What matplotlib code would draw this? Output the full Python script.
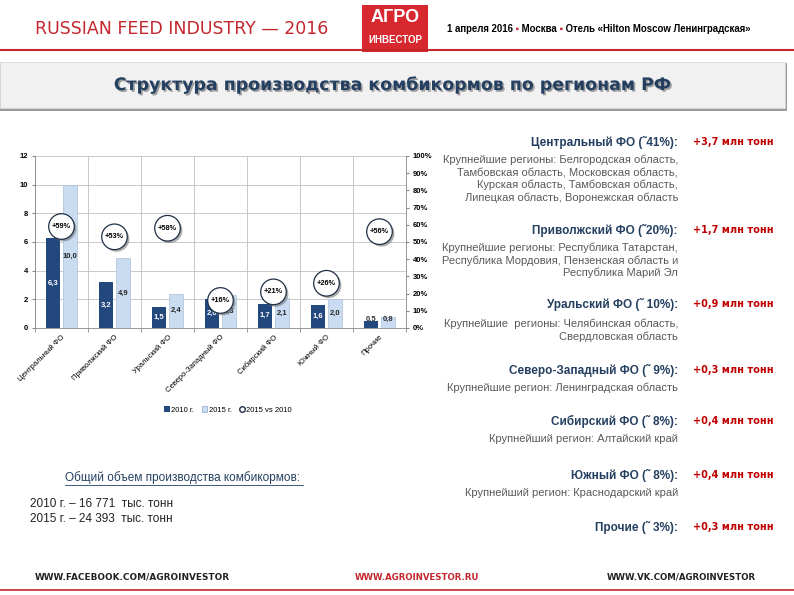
import matplotlib
matplotlib.use('Agg')
import matplotlib.pyplot as plt
import matplotlib.patheffects as pe
from matplotlib.patches import Rectangle, Patch
from matplotlib.lines import Line2D
import numpy as np

# data
categories = ['Центральный ФО', 'Приволжский ФО', 'Уральский ФО', 'Северо-Западный ФО',
              'Сибирский ФО', 'Южный ФО', 'Прочие']
v2010 = [6.3, 3.2, 1.5, 2.0, 1.7, 1.6, 0.5]
v2015 = [10.0, 4.9, 2.4, 2.3, 2.1, 2.0, 0.8]
growth = [59, 53, 58, 16, 21, 26, 56]

left_ticks = [0, 2, 4, 6, 8, 10, 12]
right_ticks = list(range(0, 101, 10))

headings = ['Центральный ФО (˜41%):', 'Приволжский ФО (˜20%):', 'Уральский ФО (˜ 10%):',
            'Северо-Западный ФО (˜ 9%):', 'Сибирский ФО (˜ 8%):', 'Южный ФО (˜ 8%):',
            'Прочие (˜ 3%):']
increments = ['+3,7 млн тонн', '+1,7 млн тонн', '+0,9 млн тонн', '+0,3 млн тонн',
              '+0,4 млн тонн', '+0,4 млн тонн', '+0,3 млн тонн']
details = [['Крупнейшие регионы: Белгородская область,', 'Тамбовская область, Московская область,',
            'Курская область, Тамбовская область,', 'Липецкая область, Воронежская область'],
           ['Крупнейшие регионы: Республика Татарстан,', 'Республика Мордовия, Пензенская область и',
            'Республика Марий Эл'],
           ['Крупнейшие  регионы: Челябинская область,', 'Свердловская область'],
           ['Крупнейшие регион: Ленинградская область'],
           ['Крупнейший регион: Алтайский край'],
           ['Крупнейший регион: Краснодарский край'],
           []]
heading_y = [142, 230, 304, 370, 421, 475, 527]

total_lines = ['2010 г. – 16 771  тыс. тонн', '2015 г. – 24 393  тыс. тонн']

DARK = '#23487e'
LIGHT = '#c9dcf2'
RED = '#c4262e'
NAVY = '#243f60'
GREY = '#595959'

W, H = 794, 595
def fx(x):
    return x / W
def fy(y):
    return 1 - y / H

plt.rcParams['font.family'] = ['Liberation Sans', 'DejaVu Sans']
fig = plt.figure(figsize=(7.94, 5.95), dpi=100)
fig.patch.set_facecolor('white')
# invisible full-figure axes for the slide decorations
bg = fig.add_axes([0, 0, 1, 1])
bg.axis('off')
bg.set_xlim(0, W)
bg.set_ylim(H, 0)

# header
bg.text(35, 29, 'RUSSIAN FEED INDUSTRY — 2016', color=RED, fontsize=12.5,
        family='DejaVu Sans', va='center', ha='left')
bg.add_patch(Rectangle((362, 5), 66, 47, facecolor='#d7282f', edgecolor='none'))
bg.text(395, 17, 'АГРО', color='white', fontsize=13, weight='bold', ha='center', va='center')
bg.text(395, 40, 'ИНВЕСТОР', color='white', fontsize=7, weight='bold', ha='center', va='center')
t1 = bg.text(447, 29, '1 апреля 2016', color='black', fontsize=6.9, weight='bold', va='center')
a1 = bg.annotate(' ▪', xy=(1, 0.5), xycoords=t1, color=RED, fontsize=6.9, weight='bold', va='center')
a2 = bg.annotate(' Москва', xy=(1, 0.5), xycoords=a1, color='black', fontsize=6.9, weight='bold', va='center')
a3 = bg.annotate(' ▪', xy=(1, 0.5), xycoords=a2, color=RED, fontsize=6.9, weight='bold', va='center')
a4 = bg.annotate(' Отель «Hilton Moscow Ленинградская»', xy=(1, 0.5), xycoords=a3, color='black',
                 fontsize=6.9, weight='bold', va='center')
bg.plot([0, W], [50, 50], color=RED, lw=1.5)

# title box
bg.add_patch(Rectangle((0, 63), 787, 48, facecolor='#9a9a9a', edgecolor='none'))
bg.add_patch(Rectangle((0, 62), 785, 46, facecolor='#f1f1f1', edgecolor='#d8d8d8', lw=0.6))
bg.text(393, 85, 'Структура производства комбикормов по регионам РФ', color=NAVY,
        fontsize=12.5, weight='bold', ha='center', va='center', family='DejaVu Sans',
        path_effects=[pe.withSimplePatchShadow(offset=(1.2, -1.2), shadow_rgbFace='#8a8a8a', alpha=0.8)])

# chart
ax = fig.add_axes([fx(35), fy(328), fx(406) - fx(35), fy(156) - fy(328)])
x = np.arange(len(categories))
bw = 0.27
ax.bar(x - 0.16, v2010, bw, color=DARK, zorder=3, label='2010 г.')
ax.bar(x + 0.16, v2015, bw, color=LIGHT, edgecolor='#aebfd6', lw=0.5, zorder=3, label='2015 г.')
for i in range(len(categories)):
    if v2010[i] < 1:
        ax.text(x[i] - 0.16, 0.62, f'{v2010[i]:.1f}'.replace('.', ','), ha='center', va='center',
                fontsize=5.5, weight='bold', color='#333333', zorder=5)
        ax.text(x[i] + 0.16, 0.62, f'{v2015[i]:.1f}'.replace('.', ','), ha='center', va='center',
                fontsize=5.5, weight='bold', color='#333333', zorder=5)
    else:
        ax.text(x[i] - 0.16, v2010[i] / 2, f'{v2010[i]:.1f}'.replace('.', ','), ha='center', va='center',
                fontsize=5.5, weight='bold', color='white', zorder=5)
        ax.text(x[i] + 0.16, v2015[i] / 2, f'{v2015[i]:.1f}'.replace('.', ','), ha='center', va='center',
                fontsize=5.5, weight='bold', color='#222222', zorder=5)
ax.set_xlim(-0.5, len(categories) - 0.5)
ax.set_ylim(0, 12)
ax.set_yticks(left_ticks)
ax.set_yticklabels([str(t) for t in left_ticks], fontsize=5.5, weight='bold')
ax.set_xticks(x)
ax.set_xticklabels(categories, rotation=45, ha='right', rotation_mode='anchor', fontsize=5.5)
ax.tick_params(axis='x', length=0, pad=4)
ax.tick_params(axis='y', length=2, color='#888888', pad=3)
ax.set_xticks(np.arange(-0.5, len(categories), 1), minor=True)
ax.tick_params(axis='x', which='minor', length=3, color='#888888')
ax.grid(axis='y', color='#c0c0c0', lw=0.6, zorder=0)
ax.grid(axis='x', which='minor', color='#c0c0c0', lw=0.6, zorder=0)
for s in ['top', 'right']:
    ax.spines[s].set_visible(False)
ax.spines['left'].set_color('#888888')
ax.spines['bottom'].set_color('#888888')
ax.spines['left'].set_linewidth(0.6)
ax.spines['bottom'].set_linewidth(0.6)

ax2 = ax.twinx()
ax2.set_ylim(0, 100)
ax2.set_yticks(right_ticks)
ax2.set_yticklabels([f'{t}%' for t in right_ticks], fontsize=5.5, weight='bold')
ax2.tick_params(axis='y', length=2, color='#888888', pad=3)
for s in ['top', 'left', 'bottom']:
    ax2.spines[s].set_visible(False)
ax2.spines['right'].set_color('#888888')
ax2.spines['right'].set_linewidth(0.6)
ax2.scatter(x, growth, s=340, facecolor='white', edgecolor='#1f2f45', lw=0.9, zorder=6,
            path_effects=[pe.SimplePatchShadow(offset=(1.5, -1.5), shadow_rgbFace='#777777', alpha=0.6),
                          pe.Normal()])
for i in range(len(categories)):
    ax2.text(x[i], growth[i], f'+{growth[i]}%', ha='center', va='center', fontsize=5.3,
             weight='bold', color='black', zorder=7)

handles = [Patch(facecolor=DARK), Patch(facecolor=LIGHT, edgecolor='#8ea9c8', lw=0.5),
           Line2D([], [], marker='o', ls='none', markerfacecolor='white', markeredgecolor='#1f2f45',
                  markersize=4)]
fig.legend(handles, ['2010 г.', '2015 г.', '2015 vs 2010'], loc='center', ncol=3,
           bbox_to_anchor=(fx(228), fy(410)), frameon=False, fontsize=5.5, handlelength=0.7,
           handleheight=0.7, handletextpad=0.2, columnspacing=1.0)

# totals
bg.text(65, 478, 'Общий объем производства комбикормов:', color=NAVY, fontsize=8.5,
        va='center', ha='left')
bg.plot([65, 303], [485, 485], color=NAVY, lw=0.6)
for k, line in enumerate(total_lines):
    bg.text(30, 504 + 15 * k, line, color='#222222', fontsize=8.5, va='center', ha='left')

# region notes
for k in range(len(headings)):
    y0 = heading_y[k]
    bg.text(678, y0, headings[k], color=NAVY, fontsize=8.5, weight='bold', ha='right', va='center')
    bg.text(693, y0, increments[k], color='#c00000', fontsize=7.0, weight='bold',
            ha='left', va='center', family='DejaVu Sans')
    first = 18 if k != 2 else 20
    for j, line in enumerate(details[k]):
        bg.text(678, y0 + first + 12.5 * j, line, color=GREY, fontsize=8.0,
                ha='right', va='center')

# footer
bg.text(35, 577, 'WWW.FACEBOOK.COM/AGROINVESTOR', color='#222222', fontsize=6.4,
        weight='bold', family='DejaVu Sans', va='center')
bg.text(355, 577, 'WWW.AGROINVESTOR.RU', color=RED, fontsize=6.2,
        weight='bold', family='DejaVu Sans', va='center')
bg.text(607, 577, 'WWW.VK.COM/AGROINVESTOR', color='#222222', fontsize=6.2,
        weight='bold', family='DejaVu Sans', va='center')
bg.plot([0, W], [590, 590], color=RED, lw=1.2)

fig.savefig('out.png', dpi=100)
